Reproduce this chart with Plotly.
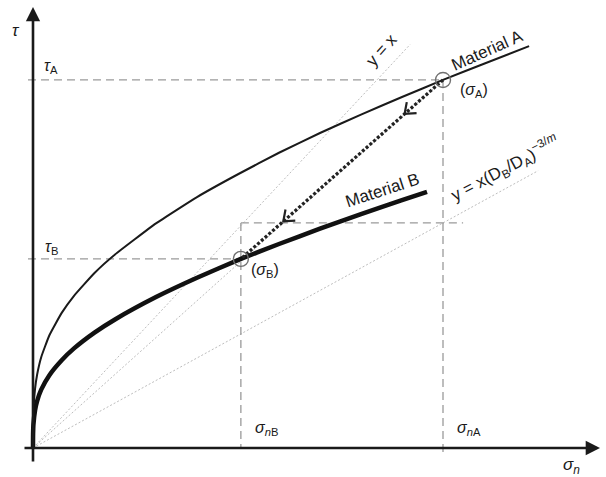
import math
import plotly.graph_objects as go

# Stress states of the two materials (normalised units)
sigma_nA, tau_A = 1.0, 0.839
sigma_nB, tau_B = 0.507, 0.431
scaled_slope = 0.513          # (D_B/D_A)^(-3/m)

# Guide-line extents (sigma)
eq_line_end = 0.92
scaled_line_end = 1.232
scaled_hline_end = 1.049

# Shear strength envelopes
sigma_curve_A = [0, 0.00002, 0.0002, 0.001, 0.005, 0.01, 0.02, 0.04, 0.07, 0.1, 0.15, 0.2,
                 0.3, 0.4, 0.5, 0.6, 0.7, 0.8, 0.9, 1.0, 1.1, 1.21]
tau_curve_A = [0, 0.026, 0.051, 0.083, 0.135, 0.167, 0.207, 0.257, 0.308, 0.347, 0.399, 0.441,
               0.512, 0.572, 0.624, 0.673, 0.718, 0.760, 0.800, 0.839, 0.876, 0.916]
sigma_curve_B = [0, 0.00002, 0.0002, 0.001, 0.005, 0.01, 0.02, 0.04, 0.07, 0.1, 0.15, 0.2,
                 0.3, 0.4, 0.507, 0.6, 0.7, 0.8, 0.9, 0.961]
tau_curve_B = [0, 0.016, 0.032, 0.053, 0.086, 0.107, 0.133, 0.166, 0.200, 0.227, 0.263, 0.293,
               0.344, 0.388, 0.431, 0.465, 0.500, 0.533, 0.565, 0.584]

# Pixel geometry of the canvas
W, H = 606, 477
OX, OY = 33, 448              # origin in pixels
SX, SY = 410.0, 438.7         # pixels per unit sigma / tau


def to_x(px):
    return (px - OX) / SX


def to_y(py):
    return (OY - py) / SY


FONT = "Arial, Liberation Sans, sans-serif"
INK = "#1a1a1a"
DASH_GREY = "#9a9a9a"
RAY_GREY = "#bdbdbd"

fig = go.Figure()


def seg(x0, y0, x1, y1, color, width, dash):
    fig.add_trace(go.Scatter(x=[x0, x1], y=[y0, y1], mode="lines",
                             line=dict(color=color, width=width, dash=dash),
                             hoverinfo="skip", showlegend=False))


# light rays through the origin
seg(0, 0, eq_line_end, eq_line_end, RAY_GREY, 1, "2px,2px")
seg(0, 0, sigma_nA, tau_A, RAY_GREY, 1, "2px,2px")
seg(0, 0, scaled_line_end, scaled_slope * scaled_line_end, RAY_GREY, 1, "2px,2px")

# dashed reference lines
seg(to_x(28), tau_A, sigma_nA, tau_A, DASH_GREY, 1.3, "8px,5px")
seg(to_x(28), tau_B, sigma_nB, tau_B, DASH_GREY, 1.3, "8px,5px")
seg(sigma_nA, tau_A, sigma_nA, to_y(457), DASH_GREY, 1.3, "8px,5px")
seg(sigma_nB, scaled_slope * sigma_nA, sigma_nB, 0, DASH_GREY, 1.3, "8px,5px")
seg(sigma_nB, scaled_slope * sigma_nA, scaled_hline_end, scaled_slope * sigma_nA,
    DASH_GREY, 1.3, "8px,5px")

# strength envelopes
fig.add_trace(go.Scatter(x=sigma_curve_A, y=tau_curve_A, mode="lines",
                         line=dict(color=INK, width=2, shape="spline", smoothing=0.4),
                         hoverinfo="skip", showlegend=False))
fig.add_trace(go.Scatter(x=sigma_curve_B, y=tau_curve_B, mode="lines",
                         line=dict(color="#111111", width=4.5, shape="spline", smoothing=0.4),
                         hoverinfo="skip", showlegend=False))

# dotted path from state A to state B
seg(sigma_nA, tau_A, sigma_nB, tau_B, "#222222", 3.2, "3px,2px")

# open chevrons along the path, pointing towards B
ax_px, ay_px = OX + sigma_nA * SX, OY - tau_A * SY
bx_px, by_px = OX + sigma_nB * SX, OY - tau_B * SY
dx, dy = bx_px - ax_px, by_px - ay_px
L = math.hypot(dx, dy)
ux, uy = dx / L, dy / L
for t in (0.19, 0.79):
    tx, ty = ax_px + t * dx, ay_px + t * dy
    arms = []
    for ang in (math.radians(38), math.radians(-38)):
        vx, vy = -ux, -uy
        rx = vx * math.cos(ang) - vy * math.sin(ang)
        ry = vx * math.sin(ang) + vy * math.cos(ang)
        arms.append((tx + 12 * rx, ty + 12 * ry))
    path = "M {} {} L {} {} L {} {}".format(
        to_x(arms[0][0]), to_y(arms[0][1]), to_x(tx), to_y(ty),
        to_x(arms[1][0]), to_y(arms[1][1]))
    fig.add_shape(type="path", path=path, xref="x", yref="y",
                  line=dict(color="#222222", width=2.2))

# state markers
fig.add_trace(go.Scatter(x=[sigma_nA, sigma_nB], y=[tau_A, tau_B], mode="markers",
                         marker=dict(symbol="circle-open", size=15, color="#707070",
                                     line=dict(width=1.4)),
                         hoverinfo="skip", showlegend=False))

# axes with arrow heads
fig.add_annotation(x=to_x(600), y=0, ax=to_x(23), ay=0, xref="x", yref="y",
                   axref="x", ayref="y", text="", showarrow=True, arrowhead=2,
                   arrowsize=1.1, arrowwidth=2.6, arrowcolor=INK)
fig.add_annotation(x=0, y=to_y(7), ax=0, ay=to_y(463), xref="x", yref="y",
                   axref="x", ayref="y", text="", showarrow=True, arrowhead=2,
                   arrowsize=1.1, arrowwidth=2.6, arrowcolor=INK)


def label(px, py, text, size=16, angle=0):
    fig.add_annotation(x=to_x(px), y=to_y(py), xref="x", yref="y", text=text,
                       showarrow=False, textangle=angle,
                       font=dict(family=FONT, size=size, color=INK))


label(16, 30, "<i>τ</i>", 17)
label(51, 66, "<i>τ</i><sub>A</sub>")
label(51, 247, "<i>τ</i><sub>B</sub>")
label(266, 428, "<i>σ</i><sub><i>n</i>B</sub>")
label(469, 428, "<i>σ</i><sub><i>n</i>A</sub>")
label(571, 466, "<i>σ</i><sub><i>n</i></sub>", 17)
label(474, 90, "(<i>σ</i><sub>A</sub>)")
label(265, 270, "(<i>σ</i><sub>B</sub>)")
label(487, 50, "Material A", 17, -24)
label(382, 190, "Material B", 17, -18)
label(381, 50, "y = x", 17, -48)
label(505, 168, "y = x(D<sub>B</sub>/D<sub>A</sub>)<sup>−3/<i>m</i></sup>", 17, -28)

fig.update_layout(
    width=W, height=H, margin=dict(l=0, r=0, t=0, b=0),
    paper_bgcolor="white", plot_bgcolor="white",
    xaxis=dict(range=[to_x(0), to_x(W)], visible=False, fixedrange=True),
    yaxis=dict(range=[to_y(H), to_y(0)], visible=False, fixedrange=True),
)

fig.write_html("out.html")
